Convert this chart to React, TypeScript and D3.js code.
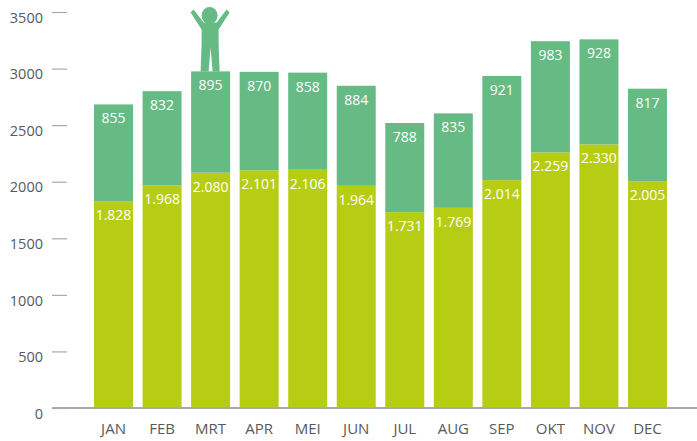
import React, { useEffect, useRef } from "react";
import * as d3 from "d3";

const WIDTH = 697;
const HEIGHT = 441;
const MARGIN = { top: 12, right: 25.25, bottom: 33, left: 89.25 };
const FONT = "'Open Sans', sans-serif";

const months = ["JAN", "FEB", "MRT", "APR", "MEI", "JUN", "JUL", "AUG", "SEP", "OKT", "NOV", "DEC"];
const lowerValues = [1828, 1968, 2080, 2101, 2106, 1964, 1731, 1769, 2014, 2259, 2330, 2005];
const upperValues = [855, 832, 895, 870, 858, 884, 788, 835, 921, 983, 928, 817];
const yTicks = [0, 500, 1000, 1500, 2000, 2500, 3000, 3500];

const LOWER_COLOR = "#b7cd14";
const UPPER_COLOR = "#66ba84";

const formatValue = (v: number) => d3.format(",")(v).replace(",", ".");

const xScale = d3.scaleBand<string>()
  .domain(months)
  .range([MARGIN.left, WIDTH - MARGIN.right])
  .paddingInner(0.197)
  .paddingOuter(0.0985);

const yScale = d3.scaleLinear()
  .domain([0, 3500])
  .range([HEIGHT - MARGIN.bottom, MARGIN.top]);

const rows = months.map((m, i) => ({ month: m, lower: lowerValues[i], upper: upperValues[i] }));
const stacked = d3.stack<any>().keys(["lower", "upper"])(rows);
const colors = [LOWER_COLOR, UPPER_COLOR];

export default function App() {
  const yAxisRef = useRef<SVGGElement>(null);
  const xAxisRef = useRef<SVGGElement>(null);

  useEffect(() => {
    const yAxis = d3.select(yAxisRef.current!);
    yAxis.selectAll("*").remove();
    yAxis.call(d3.axisLeft(yScale).tickValues(yTicks).tickSize(15).tickPadding(9).tickFormat(d3.format("d")) as any);
    yAxis.select(".domain").remove();
    yAxis.selectAll("line").attr("stroke", "#a7a9ac").attr("stroke-width", 1.2);
    yAxis.selectAll("text")
      .attr("dy", "0.7em")
      .attr("fill", "#58595b")
      .style("font-family", FONT)
      .style("font-size", "14.5px")
      .style("font-weight", 500);

    const xAxis = d3.select(xAxisRef.current!);
    xAxis.selectAll("*").remove();
    xAxis.call(d3.axisBottom(xScale).tickSize(0).tickPadding(15) as any);
    xAxis.select(".domain").remove();
    xAxis.selectAll("text")
      .attr("fill", "#58595b")
      .style("font-family", FONT)
      .style("font-size", "15px")
      .style("font-weight", 500);
  }, []);

  const baseY = yScale(0);
  const figureX = xScale("MRT")! + xScale.bandwidth() / 2;
  const figureY = yScale(lowerValues[2] + upperValues[2]);

  return (
    <svg width={WIDTH} height={HEIGHT} style={{ position: "absolute", left: 0, top: 0 }}>
      {stacked.map((layer, li) => (
        <g key={layer.key} fill={colors[li]}>
          {layer.map((d) => (
            <rect
              key={d.data.month}
              x={xScale(d.data.month)}
              y={yScale(d[1])}
              width={xScale.bandwidth()}
              height={yScale(d[0]) - yScale(d[1])}
            />
          ))}
        </g>
      ))}
      {stacked.map((layer) => (
        <g key={layer.key} fill="#fff" fontFamily={FONT} fontSize={14} textAnchor="middle">
          {layer.map((d) => (
            <text key={d.data.month} x={xScale(d.data.month)! + xScale.bandwidth() / 2} y={yScale(d[1]) + 19}>
              {formatValue(d[1] - d[0])}
            </text>
          ))}
        </g>
      ))}
      {/* little figure cheering on the MRT bar */}
      <g transform={`translate(${figureX},${figureY})`} fill={UPPER_COLOR}>
        <ellipse cx={-1} cy={-56} rx={8} ry={8.5} />
        <path d="M-20,-59 L-17,-62 L-7,-49 L6,-49 L16,-62 L19,-59 L8,-42 L8,-28 L9,0 L2,0 L0,-24 L-2,0 L-10,0 L-9,-28 L-9,-42 Z" />
      </g>
      <g ref={yAxisRef} transform="translate(67,0)" />
      <g ref={xAxisRef} transform={`translate(0,${baseY})`} />
      <line x1={52} x2={WIDTH} y1={baseY} y2={baseY} stroke="#a7a9ac" strokeWidth={2} />
    </svg>
  );
}
